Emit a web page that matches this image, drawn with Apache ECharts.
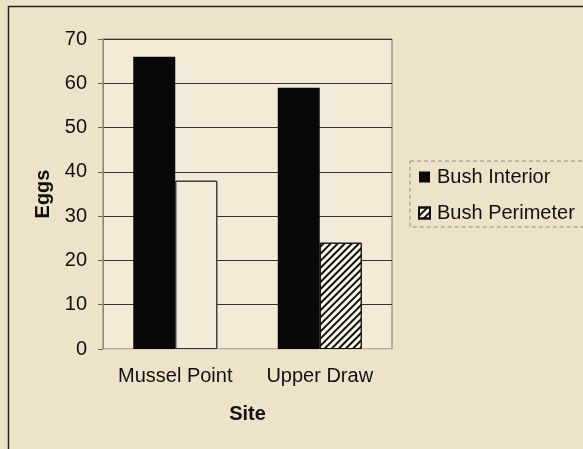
<!DOCTYPE html>
<html>
<head>
<meta charset="utf-8">
<script src="https://cdn.jsdelivr.net/npm/echarts@6/dist/echarts.min.js"></script>
<style>
  html, body { margin: 0; padding: 0; background: #eee3c9; }
  #chart { width: 583px; height: 449px; }
</style>
</head>
<body>
<div id="chart"></div>
<script>
// Egg counts per site, split by position in the bush
const sites = ['Mussel Point', 'Upper Draw'];
const bushInterior = [66, 59];
const bushPerimeter = [38, 24];
const seriesNames = ['Bush Interior', 'Bush Perimeter'];
const yTicks = { min: 0, max: 70, step: 10 };

const FONT = '"Liberation Sans", Arial, sans-serif';
const FS = 20;
const hatch = {
  symbol: 'rect',
  symbolSize: 1,
  dashArrayX: [[1, 0]],
  dashArrayY: [2, 3],
  rotation: -Math.PI / 4,
  color: '#111'
};
// faded bar: same pattern drawn fully transparent
const faded = Object.assign({}, hatch, { color: 'rgba(0,0,0,0)' });

const chart = echarts.init(document.getElementById('chart'));
chart.setOption({
  backgroundColor: '#eee3c9',
  animation: false,
  textStyle: { fontFamily: FONT },
  graphic: [{
    type: 'rect',
    shape: { x: 8.5, y: 6.5, width: 700, height: 600 },
    style: { fill: 'none', stroke: '#222', lineWidth: 1.5 },
    silent: true,
    z: -1
  }],
  grid: {
    left: 103, top: 39, width: 289, height: 310,
    show: true,
    backgroundColor: '#f3ebd8',
    borderColor: '#777',
    borderWidth: 1
  },
  legend: {
    orient: 'vertical',
    left: 410, top: 161,
    padding: [6, 12, 4, 8],
    itemGap: 16,
    itemWidth: 11, itemHeight: 11,
    icon: 'rect',
    borderColor: '#888',
    borderWidth: 1,
    borderType: [4, 3],
    data: seriesNames,
    textStyle: { fontFamily: FONT, fontSize: FS, color: '#111', padding: [0, 0, 0, 2] }
  },
  xAxis: {
    type: 'category',
    data: sites,
    name: 'Site',
    nameLocation: 'middle',
    nameGap: 55,
    nameTextStyle: { fontFamily: FONT, fontSize: FS, fontWeight: 'bold', color: '#111' },
    axisLine: { lineStyle: { color: '#d8d0bc', width: 1 } },
    axisTick: { show: false },
    axisLabel: { interval: 0, fontFamily: FONT, fontSize: FS, color: '#111', margin: 17 }
  },
  yAxis: {
    type: 'value',
    min: yTicks.min, max: yTicks.max, interval: yTicks.step,
    name: 'Eggs',
    nameLocation: 'middle',
    nameGap: 50,
    nameTextStyle: { fontFamily: FONT, fontSize: FS, fontWeight: 'bold', color: '#111' },
    axisLine: { show: true, lineStyle: { color: '#888', width: 1 } },
    axisTick: { show: true, length: 5, lineStyle: { color: '#666' } },
    axisLabel: { fontFamily: FONT, fontSize: FS, color: '#111', margin: 16 },
    splitLine: { show: true, lineStyle: { color: '#333', width: 1 } }
  },
  series: [
    {
      name: seriesNames[0],
      type: 'bar',
      data: bushInterior,
      barWidth: 42,
      barGap: '0%',
      itemStyle: { color: '#080808' }
    },
    {
      name: seriesNames[1],
      type: 'bar',
      data: bushPerimeter.map((v, i) => i === 0
        ? { value: v, itemStyle: { color: '#f4ecd9', decal: faded, borderColor: '#333', borderWidth: 1 } }
        : v),
      barWidth: 42,
      itemStyle: { color: '#fbf7e9', borderColor: '#111', borderWidth: 1, decal: hatch }
    }
  ]
});
</script>
</body>
</html>
